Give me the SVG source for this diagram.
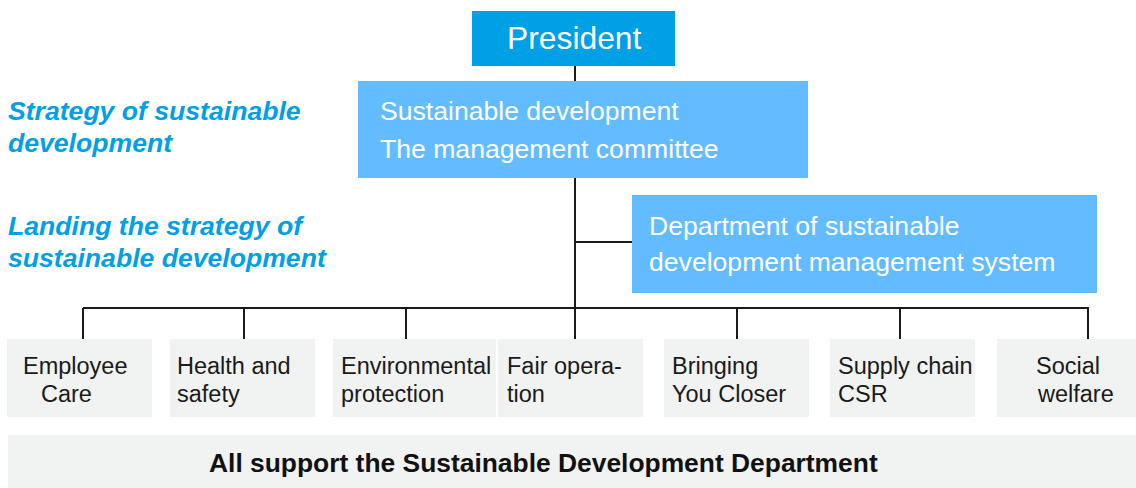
<svg xmlns="http://www.w3.org/2000/svg" width="1136" height="488" viewBox="0 0 1136 488">
<style>
.ln{stroke:#1a1a1a;stroke-width:2;fill:none}
.gb{fill:#f1f2f2}
.nt{font-family:"Liberation Sans",Arial,sans-serif;font-size:23.5px;fill:#1a1a1a}
.wt{font-family:"Liberation Sans",Arial,sans-serif;font-size:26.6px;fill:#ffffff}
.lt{font-family:"Liberation Sans",Arial,sans-serif;font-size:26.6px;font-weight:bold;font-style:italic;fill:#00a0e6}
</style>
<rect width="1136" height="488" fill="#ffffff"/>
<g id="connectors">
<line class="ln" x1="575" y1="66" x2="575" y2="339"/>
<line class="ln" x1="575" y1="242" x2="632" y2="242"/>
<line class="ln" x1="83" y1="308" x2="1089" y2="308"/>
<line class="ln" x1="83" y1="308" x2="83" y2="339"/>
<line class="ln" x1="244" y1="308" x2="244" y2="339"/>
<line class="ln" x1="406" y1="308" x2="406" y2="339"/>
<line class="ln" x1="737" y1="308" x2="737" y2="339"/>
<line class="ln" x1="900" y1="308" x2="900" y2="339"/>
<line class="ln" x1="1088" y1="308" x2="1088" y2="339"/>
</g>
<g id="label-strategy">
<text class="lt" x="8" y="120">Strategy of sustainable</text>
<text class="lt" x="8" y="152">development</text>
</g>
<g id="label-landing">
<text class="lt" x="8" y="235">Landing the strategy of</text>
<text class="lt" x="8" y="267">sustainable development</text>
</g>
<g id="president">
<rect x="472" y="11" width="203" height="55" fill="#00a0e6"/>
<text class="wt" x="507" y="49" style="font-size:31.8px">President</text>
</g>
<g id="committee">
<rect x="358" y="81" width="450" height="97" fill="#62bcff"/>
<text class="wt" x="380" y="120">Sustainable development</text>
<text class="wt" x="380" y="158">The management committee</text>
</g>
<g id="department">
<rect x="632" y="195" width="465" height="98" fill="#62bcff"/>
<text class="wt" x="649" y="235">Department of sustainable</text>
<text class="wt" x="649" y="271">development management system</text>
</g>
<g id="employee-care">
<rect class="gb" x="7" y="339" width="145" height="78"/>
<text class="nt" x="23" y="374">Employee</text>
<text class="nt" x="41" y="402">Care</text>
</g>
<g id="health-safety">
<rect class="gb" x="170" y="339" width="145" height="78"/>
<text class="nt" x="177" y="374">Health and</text>
<text class="nt" x="177" y="402">safety</text>
</g>
<g id="environmental">
<rect class="gb" x="333" y="339" width="163" height="78"/>
<text class="nt" x="341" y="374">Environmental</text>
<text class="nt" x="341" y="402">protection</text>
</g>
<g id="fair-operation">
<rect class="gb" x="498" y="339" width="145" height="78"/>
<text class="nt" x="507" y="374">Fair opera-</text>
<text class="nt" x="507" y="402">tion</text>
</g>
<g id="bringing">
<rect class="gb" x="664" y="339" width="145" height="78"/>
<text class="nt" x="672" y="374">Bringing</text>
<text class="nt" x="672" y="402">You Closer</text>
</g>
<g id="supply-chain">
<rect class="gb" x="830" y="339" width="145" height="78"/>
<text class="nt" x="838" y="374">Supply chain</text>
<text class="nt" x="838" y="402">CSR</text>
</g>
<g id="social-welfare">
<rect class="gb" x="997" y="339" width="139" height="78"/>
<text class="nt" x="1036" y="374">Social</text>
<text class="nt" x="1038" y="402">welfare</text>
</g>
<g id="support-bar">
<rect class="gb" x="8" y="435" width="1128" height="53"/>
<text x="209" y="472" style="font-family:'Liberation Sans',Arial,sans-serif;font-size:26.4px;font-weight:bold;fill:#111">All support the Sustainable Development Department</text>
</g>
</svg>
